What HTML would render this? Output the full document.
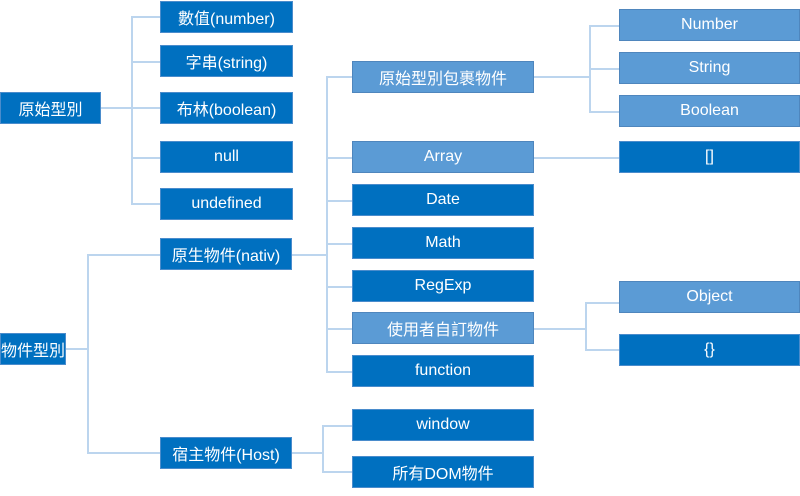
<!DOCTYPE html>
<html><head><meta charset="utf-8"><style>
body{margin:0;width:800px;height:496px;background:#fff;position:relative;overflow:hidden;font-family:"Liberation Sans","Noto Sans CJK TC",sans-serif}
.b{position:absolute;box-sizing:border-box;background:#0070c0;border:1px solid #4a8ccc;color:#fff;font-size:16px;display:flex;align-items:center;justify-content:center;white-space:nowrap}
.l{background:#5b9bd5;border-color:#4f86bd}
.h,.v{position:absolute;background:#bcd5ee}
.h{height:2px}.v{width:2px}
</style></head><body>
<!-- lines -->
<div class="h" style="left:100px;top:107px;width:60px"></div>
<div class="v" style="left:131px;top:16px;height:189px"></div>
<div class="h" style="left:131px;top:16px;width:29px"></div>
<div class="h" style="left:131px;top:61px;width:29px"></div>
<div class="h" style="left:131px;top:157px;width:29px"></div>
<div class="h" style="left:131px;top:203px;width:29px"></div>

<div class="h" style="left:66px;top:348px;width:21px"></div>
<div class="v" style="left:87px;top:254px;height:200px"></div>
<div class="h" style="left:87px;top:254px;width:73px"></div>
<div class="h" style="left:87px;top:452px;width:73px"></div>

<div class="h" style="left:291px;top:254px;width:36px"></div>
<div class="v" style="left:326px;top:76px;height:296px"></div>
<div class="h" style="left:326px;top:76px;width:26px"></div>
<div class="h" style="left:326px;top:157px;width:26px"></div>
<div class="h" style="left:326px;top:200px;width:26px"></div>
<div class="h" style="left:326px;top:243px;width:26px"></div>
<div class="h" style="left:326px;top:286px;width:26px"></div>
<div class="h" style="left:326px;top:328px;width:26px"></div>
<div class="h" style="left:326px;top:371px;width:26px"></div>

<div class="h" style="left:291px;top:452px;width:32px"></div>
<div class="v" style="left:322px;top:425px;height:48px"></div>
<div class="h" style="left:322px;top:425px;width:30px"></div>
<div class="h" style="left:322px;top:471px;width:30px"></div>

<div class="h" style="left:533px;top:76px;width:57px"></div>
<div class="v" style="left:589px;top:25px;height:87px"></div>
<div class="h" style="left:589px;top:25px;width:30px"></div>
<div class="h" style="left:589px;top:68px;width:30px"></div>
<div class="h" style="left:589px;top:111px;width:30px"></div>
<div class="h" style="left:533px;top:157px;width:86px"></div>

<div class="h" style="left:533px;top:328px;width:53px"></div>
<div class="v" style="left:585px;top:302px;height:49px"></div>
<div class="h" style="left:585px;top:302px;width:34px"></div>
<div class="h" style="left:585px;top:349px;width:34px"></div>

<!-- boxes -->
<div class="b" style="left:0;top:92px;width:101px;height:32px">原始型別</div>
<div class="b" style="left:160px;top:1px;width:133px;height:32px">數值(number)</div>
<div class="b" style="left:160px;top:45px;width:133px;height:32px">字串(string)</div>
<div class="b" style="left:160px;top:92px;width:133px;height:32px">布林(boolean)</div>
<div class="b" style="left:160px;top:141px;width:133px;height:32px">null</div>
<div class="b" style="left:160px;top:188px;width:133px;height:32px">undefined</div>

<div class="b" style="left:0;top:333px;width:66px;height:32px">物件型別</div>
<div class="b" style="left:160px;top:238px;width:132px;height:32px">原生物件(nativ)</div>
<div class="b" style="left:160px;top:437px;width:132px;height:32px">宿主物件(Host)</div>

<div class="b l" style="left:352px;top:61px;width:182px;height:32px">原始型別包裹物件</div>
<div class="b l" style="left:352px;top:141px;width:182px;height:32px">Array</div>
<div class="b" style="left:352px;top:184px;width:182px;height:32px">Date</div>
<div class="b" style="left:352px;top:227px;width:182px;height:32px">Math</div>
<div class="b" style="left:352px;top:270px;width:182px;height:32px">RegExp</div>
<div class="b l" style="left:352px;top:312px;width:182px;height:32px">使用者自訂物件</div>
<div class="b" style="left:352px;top:355px;width:182px;height:32px">function</div>
<div class="b" style="left:352px;top:409px;width:182px;height:32px">window</div>
<div class="b" style="left:352px;top:456px;width:182px;height:32px">所有DOM物件</div>

<div class="b l" style="left:619px;top:9px;width:181px;height:32px">Number</div>
<div class="b l" style="left:619px;top:52px;width:181px;height:32px">String</div>
<div class="b l" style="left:619px;top:95px;width:181px;height:32px">Boolean</div>
<div class="b" style="left:619px;top:141px;width:181px;height:32px">[]</div>
<div class="b l" style="left:619px;top:281px;width:181px;height:32px">Object</div>
<div class="b" style="left:619px;top:334px;width:181px;height:32px">{}</div>
</body></html>
